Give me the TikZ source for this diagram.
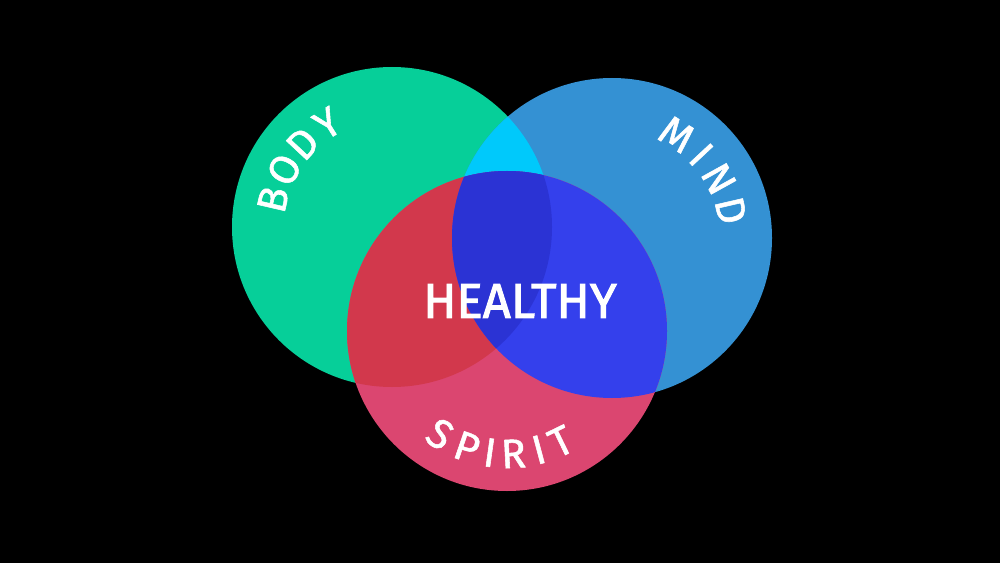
\documentclass[tikz,border=0pt]{standalone}
\usepackage{fontspec}
\setmainfont{Fira Sans}
\newfontfamily\lblfont{Fira Sans}[FakeBold=2]
\newfontfamily\arcfont{Fira Sans}[FakeBold=1.3]
\definecolor{bodyc}{HTML}{06CF99}
\definecolor{mindc}{HTML}{3491D3}
\definecolor{spiritc}{HTML}{DB4670}
\definecolor{bmc}{HTML}{00C9FB}
\definecolor{bsc}{HTML}{D2384C}
\definecolor{msc}{HTML}{3440EC}
\definecolor{allc}{HTML}{2B33D4}
\tikzset{
  lbl/.style={text=white, font=\lblfont\fontsize{49}{49}\selectfont, inner sep=0pt},
  arcl/.style={text=white, font=\arcfont\fontsize{41}{41}\selectfont, inner sep=0pt, anchor=base},
}
\begin{document}
\begin{tikzpicture}[x=1pt,y=1pt]
\fill[black] (0,0) rectangle (1000,563);
\useasboundingbox (0,0) rectangle (1000,563);
\coordinate (B) at (392,336);
\coordinate (M) at (612,325);
\coordinate (S) at (507,232);
\fill[bodyc] (B) circle[radius=160pt];
\fill[mindc] (M) circle[radius=160pt];
\fill[spiritc] (S) circle[radius=160pt];
\begin{scope}
  \clip (B) circle[radius=160pt];
  \fill[bmc] (M) circle[radius=160pt];
  \fill[bsc] (S) circle[radius=160pt];
\end{scope}
\begin{scope}
  \clip (M) circle[radius=160pt];
  \fill[msc] (S) circle[radius=160pt];
  \clip (B) circle[radius=160pt];
  \fill[allc] (S) circle[radius=160pt];
\end{scope}
\node[lbl] (healthy) at (520,262) {HEALTHY};
% BODY
\foreach \a/\l [count=\i] in {167/B,152/O,137/D,122/Y}
  \node[arcl, rotate=\a-90] (body\i) at ([shift={(\a:108pt)}]B) {\l};
% MIND
\foreach \a/\l [count=\i] in {58/M,43/I,29/N,13/D}
  \node[arcl, rotate=\a-90] (mind\i) at ([shift={(\a:108pt)}]M) {\l};
% SPIRIT
\foreach \a/\l [count=\i] in {237/S,251/P,262/I,273/R,285/I,296/T}
  \node[arcl, rotate=\a+90] (spirit\i) at ([shift={(\a:137pt)}]S) {\l};
\end{tikzpicture}
\end{document}
